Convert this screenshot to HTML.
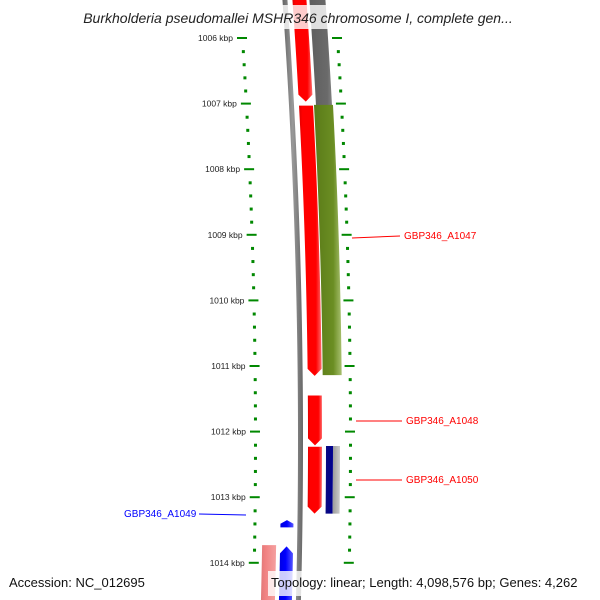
<!DOCTYPE html>
<html><head><meta charset="utf-8"><style>
body{margin:0;background:#fff;}
svg{display:block;font-family:"Liberation Sans",sans-serif;}
</style></head><body>
<svg id="c" width="600" height="600" viewBox="0 0 600 600">
<defs>
<linearGradient id="gRed" x1="0" x2="1"><stop offset="0" stop-color="#d00"/><stop offset="0.15" stop-color="#f00"/><stop offset="0.75" stop-color="#f00"/><stop offset="1" stop-color="#ff6a6a"/></linearGradient>
<linearGradient id="gOlive" x1="0" x2="1"><stop offset="0" stop-color="#5a7a18"/><stop offset="0.7" stop-color="#6b8e23"/><stop offset="1" stop-color="#a8c070"/></linearGradient>
<linearGradient id="gGray" x1="0" x2="1"><stop offset="0" stop-color="#555"/><stop offset="0.7" stop-color="#6a6a6a"/><stop offset="1" stop-color="#aaa"/></linearGradient>
<linearGradient id="gLine" x1="0" x2="1"><stop offset="0" stop-color="#666"/><stop offset="0.5" stop-color="#999"/><stop offset="1" stop-color="#666"/></linearGradient>
<linearGradient id="gNavy" x1="0" x2="1"><stop offset="0" stop-color="#0a0a80"/><stop offset="1" stop-color="#000090"/></linearGradient>
<linearGradient id="gLG" x1="0" x2="1"><stop offset="0" stop-color="#999"/><stop offset="1" stop-color="#ccc"/></linearGradient>
<linearGradient id="gBlue" x1="0" x2="1"><stop offset="0" stop-color="#00d"/><stop offset="0.5" stop-color="#00f"/><stop offset="1" stop-color="#55f"/></linearGradient>
<linearGradient id="gPink" x1="0" x2="1"><stop offset="0" stop-color="#d77"/><stop offset="0.3" stop-color="#f08080"/><stop offset="1" stop-color="#f5a0a0"/></linearGradient>
</defs>
<g id="marks"></g>
<g>
<line x1="352" y1="238" x2="400" y2="236" stroke="#f00"/>
<text x="404" y="239" font-size="10" fill="#f00">GBP346_A1047</text>
<line x1="356" y1="421" x2="402" y2="421" stroke="#f00"/>
<text x="406" y="424" font-size="10" fill="#f00">GBP346_A1048</text>
<line x1="356" y1="480" x2="402" y2="480" stroke="#f00"/>
<text x="406" y="483" font-size="10" fill="#f00">GBP346_A1050</text>
<line x1="199" y1="514" x2="246" y2="515" stroke="#00f"/>
<text x="124" y="517" font-size="10" fill="#00f">GBP346_A1049</text>
</g>
<rect x="60" y="5" width="480" height="24" fill="#fff" opacity="0.8"/>
<text x="298" y="23" font-size="14" font-style="italic" text-anchor="middle" fill="#222">Burkholderia pseudomallei MSHR346 chromosome I, complete gen...</text>
<rect x="0" y="571" width="600" height="29" fill="#fff" opacity="0"/>
<text x="9" y="587" font-size="13" fill="#111">Accession: NC_012695</text>
<rect x="268" y="571" width="326" height="25" fill="#fff" opacity="0.8"/>
<text x="271" y="587" font-size="13" fill="#111">Topology: linear; Length: 4,098,576 bp; Genes: 4,262</text>
</svg>
<script>
const tickKbp=[1006,1007,1008,1009,1010,1011,1012,1013,1014];
const featStart=[1005.4,1007.03,1003.0,1007.02,1011.45,1012.23,1012.22,1013.35,1013.75,1013.73];
const featEnd=[1006.97,1011.15,1010.97,1011.14,1012.21,1013.25,1013.25,1013.46,1015.0,1015.0];
const featCol=['red','red','gray','olive','red','red','navy','blue','blue','pink'];
const ns='http://www.w3.org/2000/svg';
const g=document.getElementById('marks');
function yOf(k){return 38+(k-1006)*65.6;}
function sh(y){return 13-8.04e-5*(y-440)*(y-440);}
function mk(tag,attrs){const e=document.createElementNS(ns,tag);for(const a in attrs)e.setAttribute(a,attrs[a]);g.appendChild(e);return e;}
// gray backbone line
(function(){let p='';for(let y=0;y<=600;y+=10){p+=(y?'L':'M')+(285+sh(y))+' '+y;}for(let y=600;y>=0;y-=10){p+='L'+(290+sh(y))+' '+y;}
const e=mk('path',{d:p+'Z',fill:'url(#gLine)'});})();
// ticks
for(let k=1006;k<=1014.01;k+=0.2){const y=yOf(k);const major=Math.abs(k-Math.round(k))<0.01;
 const xl=242+sh(y), xr=336+sh(y);
 let e;
 if(major){e=mk('rect',{x:xl-5,y:y-1,width:10,height:2,fill:'#080'});}
 else{e=mk('rect',{x:xl-1,y:y-1,width:3,height:3,fill:'#080'});}
 
 if(major){e=mk('rect',{x:xr-4,y:y-1,width:10,height:2,fill:'#080'});}
 else{e=mk('rect',{x:xr,y:y-1,width:3,height:3,fill:'#080'});}
 
}
tickKbp.forEach(k=>{const y=yOf(k);const t=mk('text',{x:242+sh(y)-9,y:y+3,'font-size':8.5,'text-anchor':'end',fill:'#222'});t.textContent=k+' kbp';
 });
// features
const colX={red:[295,309],gray:[312,328],olive:[310,329],navy:[313,320],blue:[268,281],pink:[250,264]};
const colF={red:'url(#gRed)',gray:'url(#gGray)',olive:'url(#gOlive)',navy:'url(#gNavy)',blue:'url(#gBlue)',pink:'url(#gPink)'};
const dir={red:-1,gray:0,olive:0,navy:0,blue:1,pink:0};
featStart.forEach((s,i)=>{
 const c=featCol[i];const y1=yOf(s),y2=yOf(featEnd[i]);const [a,b]=colX[c];const d=dir[c];const ah=Math.min(7,(y2-y1)/2);
 let L=[],R=[];const top=d===1?y1+ah:y1, bot=d===-1?y2-ah:y2;
 for(let y=top;y<bot;y+=5){L.push([a+sh(y),y]);R.push([b+sh(y),y]);}
 L.push([a+sh(bot),bot]);R.push([b+sh(bot),bot]);
 let pts=[];if(d===1)pts.push([(a+b)/2+sh(y1),y1]);
 pts=pts.concat(L);if(d===-1)pts.push([(a+b)/2+sh(y2),y2]);
 pts=pts.concat(R.reverse());
 const e=mk('polygon',{points:pts.map(p=>p.join(',')).join(' '),fill:colF[c]});
 
 if(c==='navy'){let P=[];for(let y=y1;y<=y2;y+=5)P.push([320+sh(y),y]);P.push([320+sh(y2),y2]);
  let Q=[];for(let y=y1;y<=y2;y+=5)Q.push([327+sh(y),y]);Q.push([327+sh(y2),y2]);
  const e2=mk('polygon',{points:P.concat(Q.reverse()).map(p=>p.join(',')).join(' '),fill:'url(#gLG)'});
  }
});
</script>
</body></html>
